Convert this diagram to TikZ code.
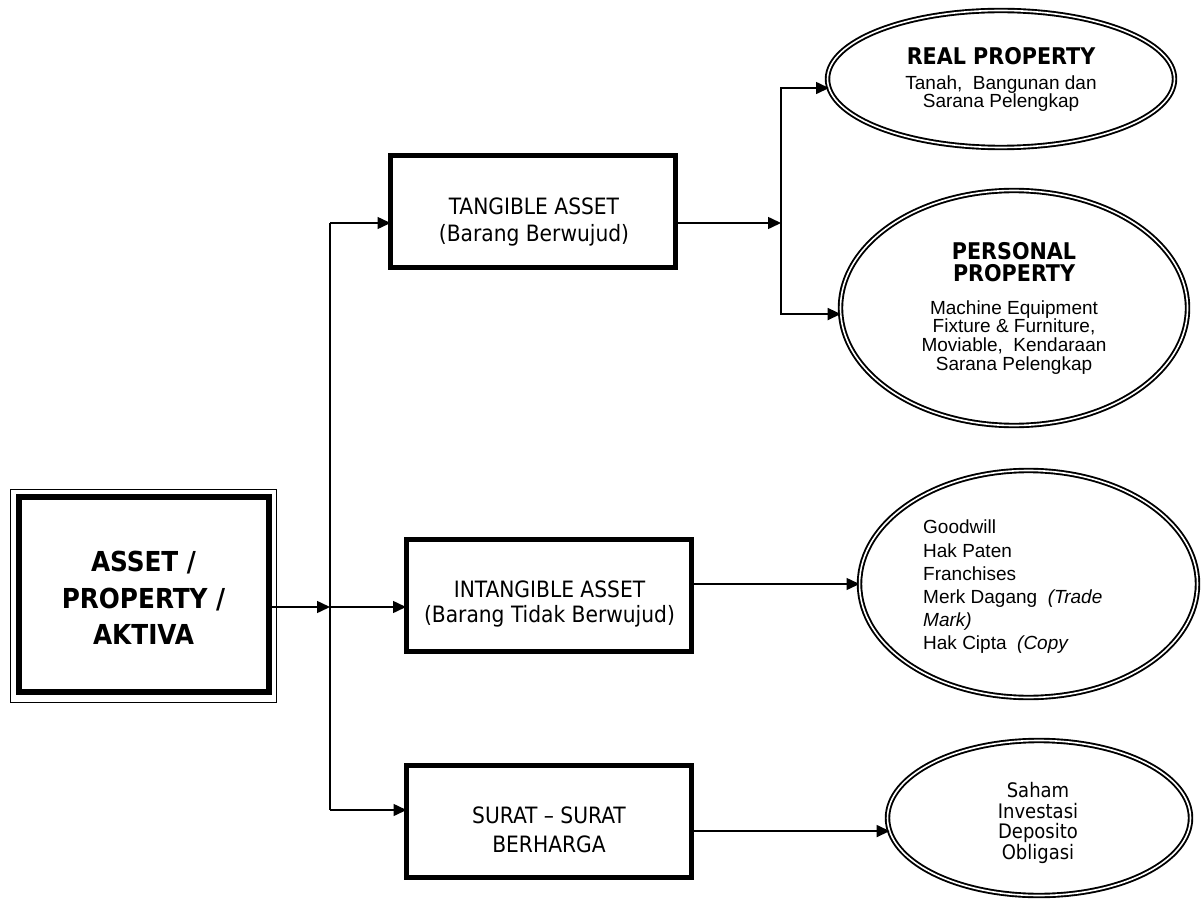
\documentclass[tikz,border=0pt]{standalone}
\usepackage{fontspec}
\setmainfont{Liberation Sans}
\newfontfamily\tah{DejaVu Sans Condensed}
\newfontfamily\ari{Liberation Sans}
\usetikzlibrary{arrows.meta,shapes.geometric}
\begin{document}
\begin{tikzpicture}[x=1pt,y=-1pt,
  conn/.style={line width=1.5pt},
  arr/.style={conn,-{Triangle[length=13pt,width=12pt]}},
  boxnode/.style={draw,line width=5pt,minimum width=285pt,minimum height=112pt,inner sep=0pt,outer sep=0pt},
  boxtxt/.style={font=\tah\fontsize{22.5}{27}\selectfont,align=center,inner sep=0pt},
  ell/.style={ellipse,draw,line width=1.9pt,double=white,double distance=1.6pt,inner sep=0pt,outer sep=0pt},
]
\useasboundingbox (0,0) rectangle (1201,901);

% main box
\node[draw,line width=6pt,minimum width=250pt,minimum height=195pt,inner sep=0pt,outer sep=0pt] (main) at (143.5,594) {};
\draw[line width=1pt] ([xshift=-8.5pt,yshift=7.5pt]main.north west) rectangle ([xshift=7.5pt,yshift=-10.5pt]main.south east);
\node[font=\tah\bfseries\fontsize{27.5}{36.5}\selectfont,align=center,inner sep=0pt] (mainT) at (143.5,598)
      {ASSET /\\PROPERTY /\\AKTIVA};

% category boxes
\node[boxnode] (tang) at (533,211.5) {};
\node[boxtxt] (tangT) at (534,222) {TANGIBLE ASSET\\(Barang Berwujud)};
\node[boxnode] (intg) at (548.5,595) {};
\node[boxtxt,font=\tah\fontsize{22.5}{25.5}\selectfont] (intgT) at (549.5,604) {INTANGIBLE ASSET\\(Barang Tidak Berwujud)};
\node[boxnode] (surat) at (549,821.5) {};
\node[boxtxt,font=\tah\fontsize{22.5}{29}\selectfont] (suratT) at (549,830) {SURAT – SURAT\\BERHARGA};

% ellipses
\node[ell,minimum width=347pt,minimum height=137pt,align=center,
      font=\ari\fontsize{19}{18}\selectfont] (real) at (1001,79)
  {{\tah\bfseries\fontsize{23}{22}\selectfont REAL PROPERTY}\\[7pt]
   Tanah,\ \ Bangunan dan\\Sarana Pelengkap};
\node[ell,minimum width=347pt,minimum height=235pt,align=center,
      font=\ari\fontsize{19}{18.7}\selectfont] (pers) at (1014,308)
  {{\tah\bfseries\fontsize{23}{22}\selectfont PERSONAL}\\[3.3pt]
   {\tah\bfseries\fontsize{23}{22}\selectfont PROPERTY}\\[14.3pt]
   Machine Equipment\\Fixture \& Furniture,\\Moviable,\ \ Kendaraan\\Sarana Pelengkap};
\node[ell,minimum width=338pt,minimum height=227pt] (inte) at (1028.5,584) {};
\node[anchor=west,align=left,inner sep=0pt,font=\ari\fontsize{19}{23.2}\selectfont] (inteT) at (923,587)
  {Goodwill\\Hak Paten\\Franchises\\Merk Dagang\ \ \textit{(Trade}\\\textit{Mark)}\\Hak Cipta\ \ \textit{(Copy}};
\node[ell,minimum width=303pt,minimum height=155pt] (sure) at (1039,818) {};
\node[align=center,inner sep=0pt,font=\tah\fontsize{20}{20.7}\selectfont] (sureT) at (1038,823)
  {Saham\\Investasi\\Deposito\\Obligasi};

% left trunk
\coordinate (t1) at (330,223);
\coordinate (t2) at (330,607);
\coordinate (t3) at (330,810);
\draw[conn] (t1) -- (t3);
\draw[arr] (main.east |- t2) -- (t2);
\draw[arr] (t1) -- (tang.west |- t1);
\draw[arr] (t2) -- (intg.west |- t2);
\draw[arr] (t3) -- (surat.west |- t3);

% right branches
\coordinate (j) at (781,223);
\draw[arr] (tang.east |- j) -- (j);
\draw[arr] (j) |- (real.183);
\draw[arr] (j) |- (pers.182);
\draw[arr] (intg.east |- inte.west) -- (inte.west);
\draw[arr] (surat.east |- sure.185) -- (sure.185);
\end{tikzpicture}
\end{document}
